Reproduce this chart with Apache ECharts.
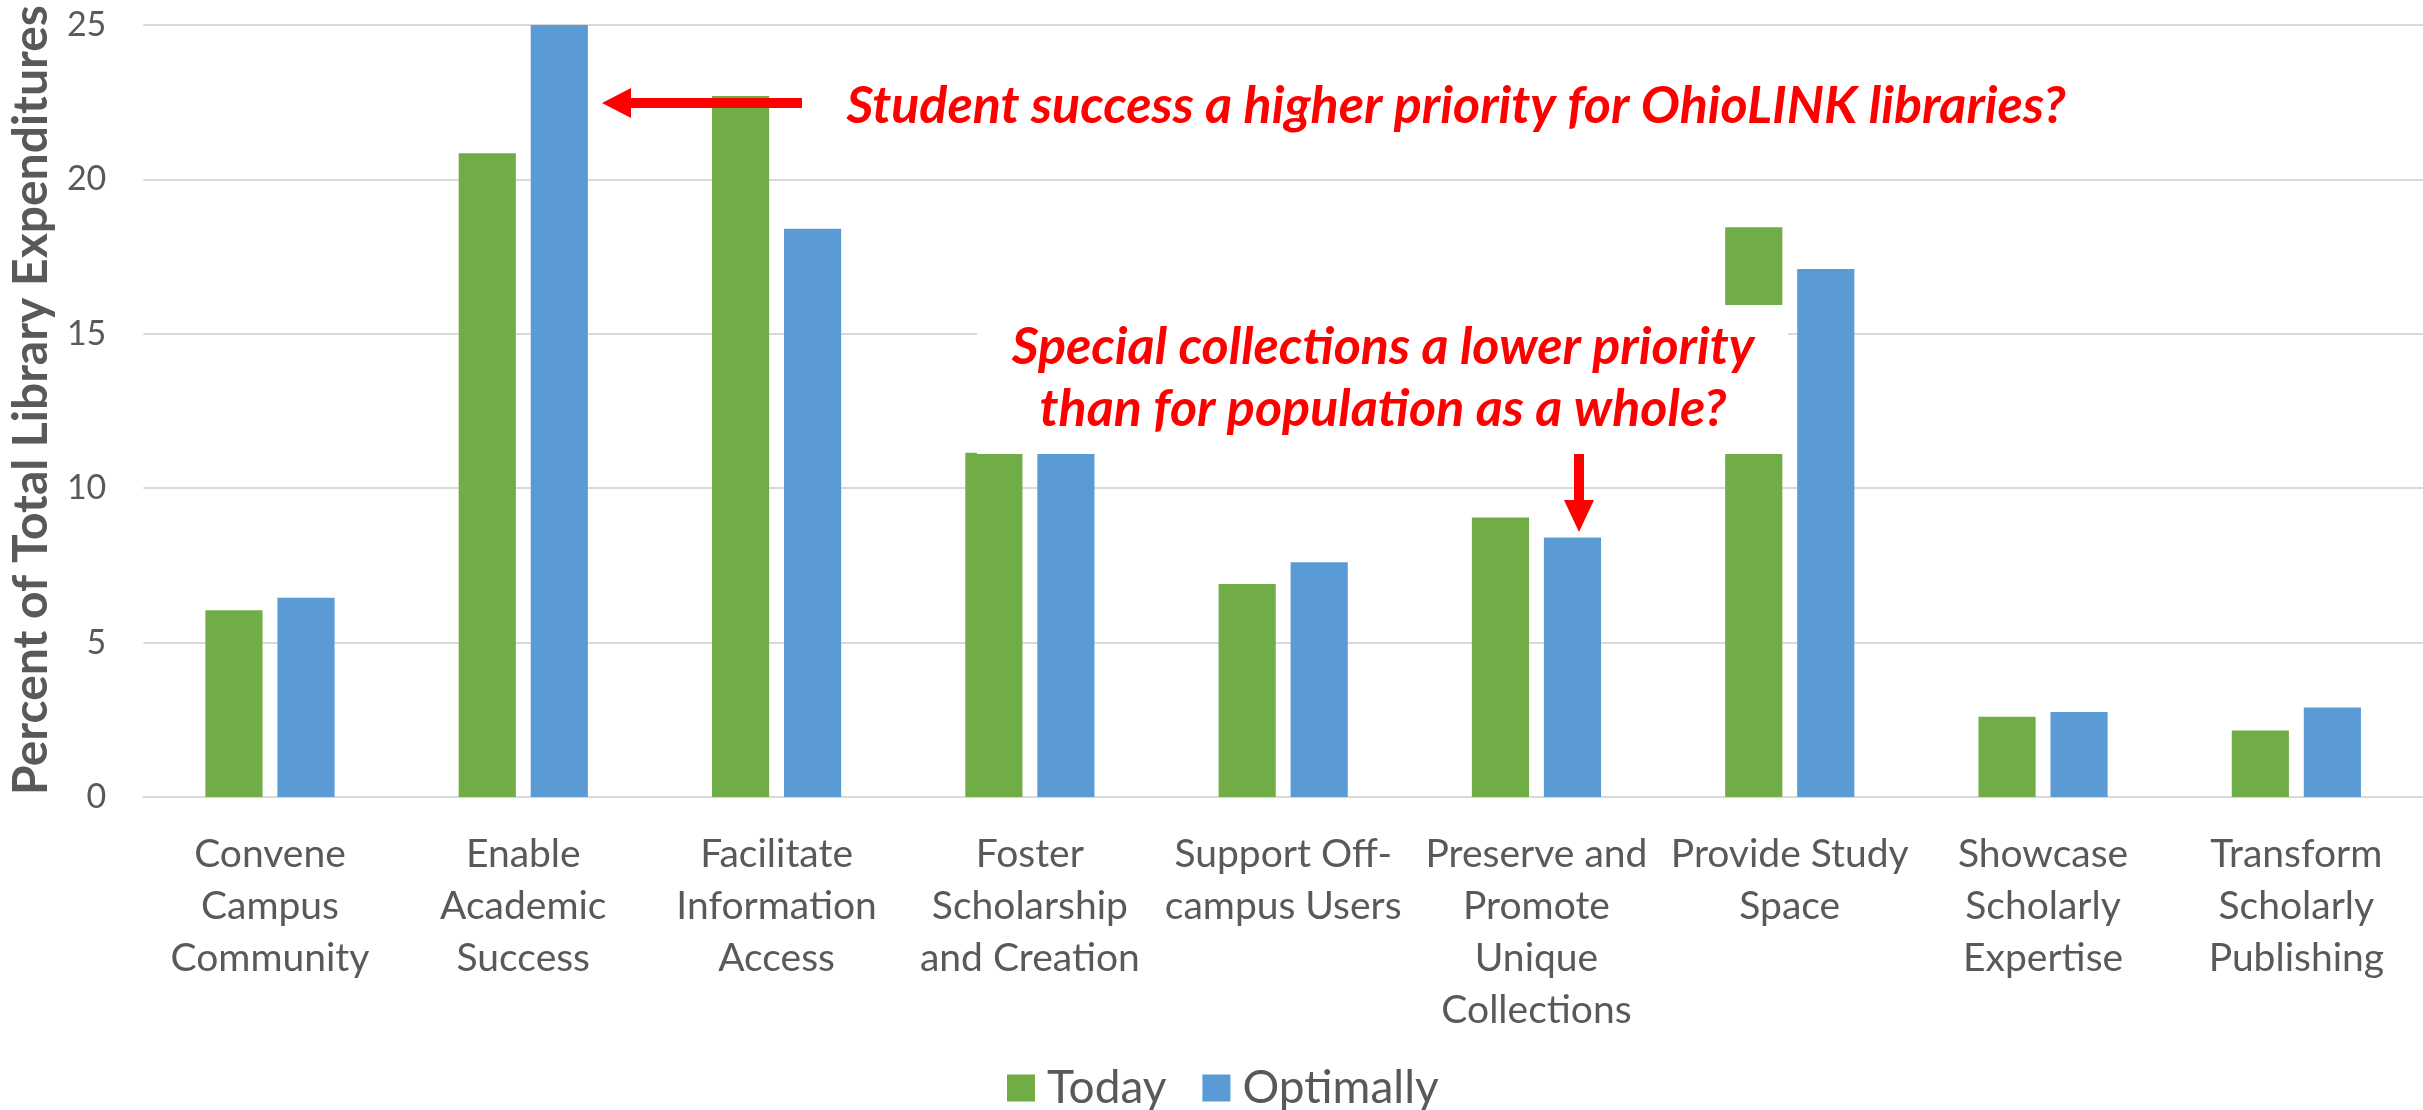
<!DOCTYPE html>
<html>
<head>
<meta charset="utf-8">
<title>Library expenditures</title>
<script src="https://cdn.jsdelivr.net/npm/echarts@6/dist/echarts.min.js"></script>
<style>
    html, body { margin: 0; padding: 0; background: #fff; }
    #chart { width: 2423px; height: 1110px; }
</style>
</head>
<body>
<div id="chart"></div>
<script>
// categories (wrapped the way the axis shows them)
var categories = [
    'Convene\nCampus\nCommunity',
    'Enable\nAcademic\nSuccess',
    'Facilitate\nInformation\nAccess',
    'Foster\nScholarship\nand Creation',
    'Support Off-\ncampus Users',
    'Preserve and\nPromote\nUnique\nCollections',
    'Provide Study\nSpace',
    'Showcase\nScholarly\nExpertise',
    'Transform\nScholarly\nPublishing'
]
var today = [6.05, 20.85, 22.7, 11.15, 6.9, 9.05, 18.45, 2.6, 2.15]
var optimally = [6.45, 25, 18.4, 11.15, 7.6, 8.4, 17.1, 2.75, 2.9]
var yTicks = [0, 5, 10, 15, 20, 25]

var green = '#70AD47'
var blue = '#5B9BD5'
var red = '#FF0000'
var grey = '#595959'
var font = 'Lato'

var chart = echarts.init(document.getElementById('chart'))
chart.setOption({
    animation: false,
    textStyle: { fontFamily: font },
    grid: {
        left: 141,
        top: 25,
        width: 2289,
        height: 772
    },
    legend: {
        data: ['Today', 'Optimally'],
        top: 1060,
        left: 1002,
        itemWidth: 28,
        itemHeight: 27,
        itemGap: 36,
        icon: 'rect',
        textStyle: {
            fontSize: 46,
            color: grey,
            fontFamily: font,
            padding: [0, 0, 0, 7]
        }
    },
    xAxis: {
        type: 'category',
        data: categories,
        axisTick: { show: false },
        axisLine: { lineStyle: { color: '#D9D9D9', width: 2 } },
        axisLabel: {
            interval: 0,
            margin: 31,
            color: grey,
            fontSize: 39,
            lineHeight: 52,
            fontFamily: font
        }
    },
    yAxis: {
        type: 'value',
        min: yTicks[0],
        max: yTicks[yTicks.length - 1],
        interval: yTicks[1] - yTicks[0],
        name: 'Percent of Total Library Expenditures',
        nameLocation: 'middle',
        nameRotate: 90,
        nameGap: 78,
        nameTextStyle: {
            fontSize: 48,
            fontWeight: 'bold',
            color: grey,
            fontFamily: font,
            padding: [0, 0, 0, 22]
        },
        axisLine: { show: false },
        axisTick: { show: false },
        axisLabel: { color: grey, fontSize: 34, margin: 37, fontFamily: font },
        splitLine: { lineStyle: { color: '#D9D9D9', width: 2 } }
    },
    series: [{
        name: 'Today',
        type: 'bar',
        data: today,
        itemStyle: { color: green },
        barGap: '26%',
        barCategoryGap: '49%'
    }, {
        name: 'Optimally',
        type: 'bar',
        data: optimally,
        itemStyle: { color: blue }
    }],
    // call-outs drawn on top of the bars
    graphic: [{
        type: 'rect',
        z: 100,
        shape: { x: 977, y: 305, width: 811, height: 149 },
        style: { fill: '#fff' }
    }, {
        type: 'text',
        z: 101,
        x: 1383,
        y: 378,
        style: {
            text: 'Special collections a lower priority\nthan for population as a whole?',
            fill: red,
            font: 'italic bold 52px Lato',
            textAlign: 'center',
            textVerticalAlign: 'middle',
            lineHeight: 62
        }
    }, {
        type: 'text',
        z: 101,
        x: 1456,
        y: 106,
        style: {
            text: 'Student success a higher priority for OhioLINK libraries?',
            fill: red,
            font: 'italic bold 52px Lato',
            textAlign: 'center',
            textVerticalAlign: 'middle'
        }
    }, {
        type: 'polygon',
        z: 101,
        shape: { points: [[602, 103], [631, 88], [631, 98], [802, 98], [802, 108], [631, 108], [631, 118]] },
        style: { fill: red }
    }, {
        type: 'polygon',
        z: 101,
        shape: { points: [[1579, 532], [1564, 500], [1574, 500], [1574, 454], [1584, 454], [1584, 500], [1594, 500]] },
        style: { fill: red }
    }]
})
</script>
</body>
</html>
